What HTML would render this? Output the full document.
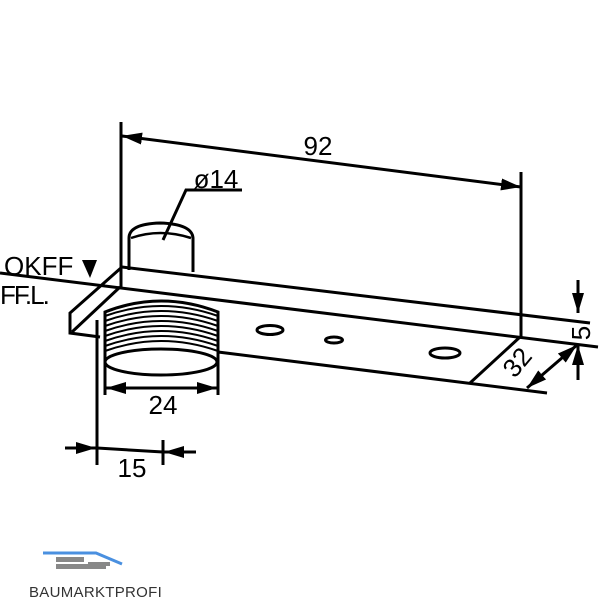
<!DOCTYPE html>
<html><head><style>body{margin:0;background:#fff}svg{display:block}text{font-family:"Liberation Sans",sans-serif}</style></head>
<body>
<svg width="600" height="600" viewBox="0 0 600 600" xmlns="http://www.w3.org/2000/svg">
<defs>
<marker id="a" viewBox="0 0 20 12" refX="20" refY="6" markerWidth="20" markerHeight="12" markerUnits="userSpaceOnUse" orient="auto-start-reverse"><path d="M0,0L20,6L0,12Z" fill="#000"/></marker>
</defs>
<g stroke="#000" stroke-width="3" fill="none" stroke-linecap="butt">
<path d="M129,270 V238 Q129,224 160,223 Q192,224 193,238 V272" fill="#fff"/>
<path d="M131,238 Q160,228 191,238" stroke-width="2.5"/>
<path d="M122,267 L590,323"/>
<path d="M0,273 L598,347"/>
<path d="M122,267 L70,313 L70,333 L100,337"/>
<path d="M120,287 L72,332"/>
<path d="M218,352 L547,393"/>
<path d="M520,337 L470,383"/>
<path d="M105,312 Q161,290 218,312 V362 Q161,385 105,362 Z" fill="#fff"/>
<g stroke-width="2">
<path d="M105,316 Q161,296 218,316"/><path d="M105,321 Q161,301 218,321"/><path d="M105,326 Q161,306 218,326"/><path d="M105,331 Q161,311 218,331"/><path d="M105,336 Q161,316 218,336"/><path d="M105,341 Q161,321 218,341"/><path d="M105,346 Q161,326 218,346"/><path d="M105,351 Q161,331 218,351"/>
</g>
<ellipse cx="161" cy="362" rx="56" ry="13" fill="#fff"/>
<ellipse cx="270" cy="330" rx="13" ry="4.5"/>
<ellipse cx="334" cy="340" rx="8.5" ry="3"/>
<ellipse cx="445" cy="353" rx="15" ry="5"/>
<path d="M121,122 V287"/>
<path d="M521,172 V337"/>
<path d="M122,136 L521,187" marker-start="url(#a)" marker-end="url(#a)"/>
<path d="M242,190 H186 L163,240"/>
<path d="M105,345 V395 M218,345 V395"/>
<path d="M106,388 L217,388" marker-start="url(#a)" marker-end="url(#a)"/>
<path d="M97,320 V465"/>
<path d="M163,440 V465"/>
<path d="M97,448 L163,452"/>
<path d="M65,448 L96,448" marker-end="url(#a)"/>
<path d="M196,452 L164,452" marker-end="url(#a)"/>
<path d="M578,280 V313" marker-end="url(#a)"/>
<path d="M578,380 V345" marker-end="url(#a)"/>
<path d="M527,388 L577,345" marker-start="url(#a)" marker-end="url(#a)"/>
</g>
<path d="M82,260 H97 L90,278 Z" fill="#000"/>
<g font-size="26" fill="#000">
<text x="318" y="155" text-anchor="middle">92</text>
<text x="216" y="188" text-anchor="middle">ø14</text>
<text x="4" y="275">OKFF</text>
<text x="0" y="304" letter-spacing="-2">FF.L.</text>
<text x="163" y="414" text-anchor="middle">24</text>
<text x="132" y="477" text-anchor="middle">15</text>
<text transform="translate(590,333) rotate(-90)" text-anchor="middle">5</text>
<text transform="translate(524,368) rotate(-50)" text-anchor="middle">32</text>
</g>
<path d="M43,553 L96,553 L122,564" stroke="#4a90e0" stroke-width="3" fill="none"/>
<g fill="#888"><rect x="56" y="557" width="28" height="5"/><rect x="88" y="562" width="22" height="4"/><rect x="56" y="564" width="50" height="5"/></g>
<text x="29" y="597" font-size="15" fill="#333" letter-spacing="0.3">BAUMARKTPROFI</text>
</svg>
</body></html>
